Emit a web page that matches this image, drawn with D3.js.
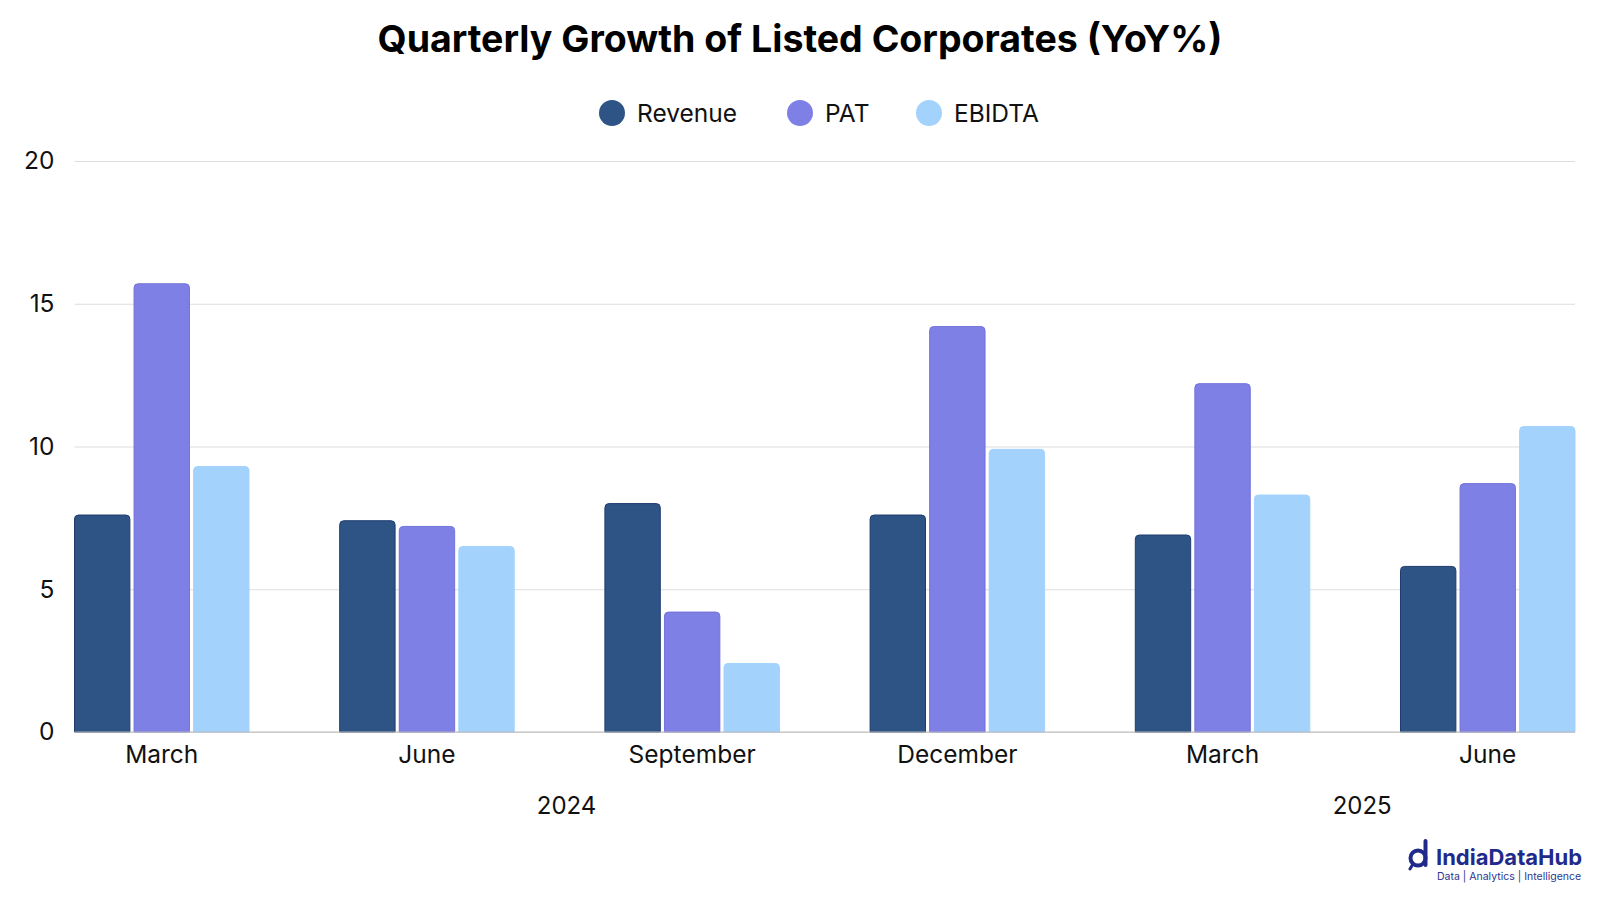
<!DOCTYPE html>
<html>
<head>
<meta charset="utf-8">
<script src="https://cdnjs.cloudflare.com/ajax/libs/d3/7.8.5/d3.min.js"></script>
<style>
  body { margin: 0; background: #ffffff; }
  svg { font-family: Inter, "Noto Sans", sans-serif; }
</style>
</head>
<body>
<svg width="1600" height="900"></svg>
<script>
/*****************************************
*   Data
*****************************************/

const quarters = ['March', 'June', 'September', 'December', 'March', 'June'];
const years = ['2024', '2024', '2024', '2024', '2025', '2025'];
const series = ['Revenue', 'PAT', 'EBIDTA'];
const revenue = [7.6, 7.4, 8.0, 7.6, 6.9, 5.8];
const pat = [15.7, 7.2, 4.2, 14.2, 12.2, 8.7];
const ebidta = [9.3, 6.5, 2.4, 9.9, 8.3, 10.7];
const y_ticks = [0, 5, 10, 15, 20];

/*****************************************
*   Global variables
*****************************************/

const SVG_WIDTH = 1600;
const SVG_HEIGHT = 900;
const LEFT_PADDING = 74.5;
const RIGHT_PADDING = 25;
const TOP = 161;
const BOTTOM = 732;

const COLORS = {Revenue: '#2e5485', PAT: '#7f80e6', EBIDTA: '#a3d2fd'};
const STROKES = {Revenue: '#1e3d6e', PAT: '#7273d8', EBIDTA: '#a3d2fd'};

var svg = d3.select('svg');
var values = {Revenue: revenue, PAT: pat, EBIDTA: ebidta};

var xScale = d3.scaleBand()
    .domain(d3.range(quarters.length))
    .range([LEFT_PADDING, SVG_WIDTH - RIGHT_PADDING])
    .paddingInner(0.342)
    .paddingOuter(0);

var subScale = d3.scaleBand()
    .domain(series)
    .range([0, xScale.bandwidth()])
    .paddingInner(0.07);

var yScale = d3.scaleLinear()
    .domain([0, 20])
    .range([BOTTOM, TOP]);

/*****************************************
*   Helper Functions
*****************************************/

// bar with rounded top corners
function bar_path(x, y, w, h, r) {
    r = Math.min(r, h);
    return 'M' + x + ',' + (y + h) +
        'V' + (y + r) +
        'Q' + x + ',' + y + ' ' + (x + r) + ',' + y +
        'H' + (x + w - r) +
        'Q' + (x + w) + ',' + y + ' ' + (x + w) + ',' + (y + r) +
        'V' + (y + h) + 'Z';
}

/*****************************************
*   Title and legend
*****************************************/

svg.append('text')
    .attr('x', SVG_WIDTH / 2)
    .attr('y', 52)
    .attr('text-anchor', 'middle')
    .attr('font-size', 37.5)
    .attr('font-weight', 700)
    .attr('fill', '#000')
    .text('Quarterly Growth of Listed Corporates (YoY%)');

var legend_x = [612, 800, 929];
var legend = svg.append('g')
    .selectAll('g')
    .data(series)
    .enter()
      .append('g')
      .attr('transform', (d, i) => 'translate(' + legend_x[i] + ',113)');
legend.append('circle')
    .attr('r', 13)
    .attr('fill', d => COLORS[d]);
legend.append('text')
    .attr('x', 25)
    .attr('dy', '0.35em')
    .attr('font-size', 24.5)
    .attr('fill', '#111')
    .text(d => d);

/*****************************************
*   Axes
*****************************************/

var yAxis = d3.axisLeft()
    .scale(yScale)
    .tickValues(y_ticks)
    .tickSize(-(SVG_WIDTH - RIGHT_PADDING - LEFT_PADDING))
    .tickPadding(20);

svg.append('g')
    .attr('transform', 'translate(' + LEFT_PADDING + ',0)')
    .attr('id', 'yaxis')
    .call(yAxis)
    .call(g => g.select('.domain').remove())
    .call(g => g.selectAll('.tick line').attr('stroke', '#dddddd'))
    .call(g => g.selectAll('.tick text')
        .attr('font-size', 24.5)
        .attr('fill', '#111')
        .attr('font-family', 'Inter, sans-serif'));

/*****************************************
*   Bars
*****************************************/

var groups = svg.append('g')
    .selectAll('g')
    .data(quarters)
    .enter()
      .append('g')
      .attr('transform', (d, i) => 'translate(' + xScale(i) + ',0)');

groups.selectAll('path')
    .data((d, i) => series.map(s => ({key: s, value: values[s][i]})))
    .enter()
      .append('path')
      .attr('d', d => bar_path(subScale(d.key), yScale(d.value),
          subScale.bandwidth(), yScale(0) - yScale(d.value), 4))
      .attr('fill', d => COLORS[d.key])
      .attr('stroke', d => STROKES[d.key])
      .attr('stroke-width', 1);

// base line
svg.append('line')
    .attr('x1', LEFT_PADDING)
    .attr('x2', SVG_WIDTH - RIGHT_PADDING)
    .attr('y1', yScale(0))
    .attr('y2', yScale(0))
    .attr('stroke', '#bbbbbb');

// quarter labels
groups.append('text')
    .attr('x', xScale.bandwidth() / 2)
    .attr('y', 763)
    .attr('text-anchor', 'middle')
    .attr('font-size', 24.5)
    .attr('fill', '#111')
    .text(d => d);

// year labels centred under their quarters
var year_list = Array.from(new Set(years));
svg.append('g')
    .selectAll('text')
    .data(year_list)
    .enter()
      .append('text')
      .attr('x', function(yr) {
          var idx = d3.range(years.length).filter(i => years[i] == yr);
          return d3.mean(idx, i => xScale(i) + xScale.bandwidth() / 2) + 7;
      })
      .attr('y', 814)
      .attr('text-anchor', 'middle')
      .attr('font-size', 24)
      .attr('fill', '#111')
      .text(d => d);

/*****************************************
*   Logo
*****************************************/

var logo = svg.append('g')
    .attr('transform', 'translate(1410,856)');
logo.append('circle')
    .attr('cx', 8)
    .attr('cy', 2)
    .attr('r', 7.5)
    .attr('fill', 'none')
    .attr('stroke', '#1f2a8a')
    .attr('stroke-width', 4);
logo.append('line')
    .attr('x1', 15.5)
    .attr('x2', 15.5)
    .attr('y1', -15)
    .attr('y2', 9)
    .attr('stroke', '#1f2a8a')
    .attr('stroke-width', 4)
    .attr('stroke-linecap', 'round');
logo.append('line')
    .attr('x1', 3)
    .attr('x2', 0)
    .attr('y1', 8)
    .attr('y2', 13)
    .attr('stroke', '#1f2a8a')
    .attr('stroke-width', 3)
    .attr('stroke-linecap', 'round');
logo.append('text')
    .attr('x', 26)
    .attr('y', 9)
    .attr('font-size', 22)
    .attr('font-weight', 700)
    .attr('fill', '#1f2a8a')
    .text('IndiaDataHub');
logo.append('text')
    .attr('x', 27)
    .attr('y', 24)
    .attr('font-size', 10.5)
    .attr('fill', '#2a3590')
    .text('Data | Analytics | Intelligence');
</script>
</body>
</html>
